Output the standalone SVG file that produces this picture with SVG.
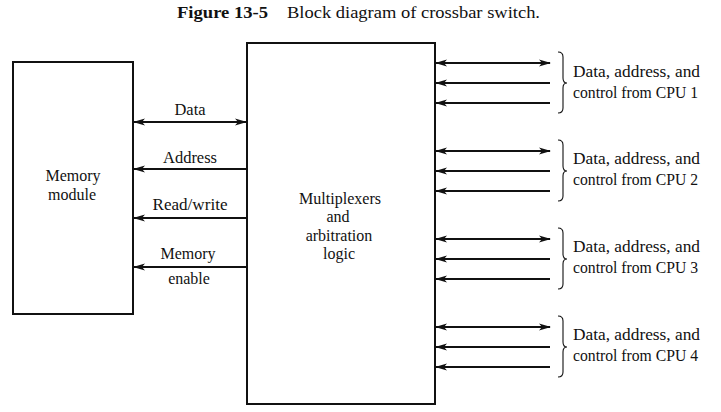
<svg xmlns="http://www.w3.org/2000/svg" width="721" height="412" viewBox="0 0 721 412">
<style>
text{font-family:"Liberation Serif","Times New Roman",serif;font-size:16px;fill:#111}
.box{fill:#fff;stroke:#111;stroke-width:2}
.ln{stroke:#111;stroke-width:1.8;fill:none}
.br{stroke:#111;stroke-width:1.1;fill:none}
.c{text-anchor:middle}
</style>
<defs>
<marker id="ah" viewBox="0 0 12 8" refX="11" refY="4" markerWidth="12" markerHeight="8" markerUnits="userSpaceOnUse" orient="auto-start-reverse">
<path d="M0,0.6 L12,4 L0,7.4 L3,4 Z" fill="#111"/>
</marker>
</defs>
<rect width="721" height="412" fill="#fff"/>
<text x="177" y="18" style="font-size:16px"><tspan font-weight="bold" textLength="91" lengthAdjust="spacingAndGlyphs">Figure 13-5</tspan><tspan x="287" textLength="253" lengthAdjust="spacingAndGlyphs">Block diagram of crossbar switch.</tspan></text>
<g id="memory">
<rect class="box" x="13" y="62" width="120" height="252"/>
<text class="c" x="73" y="181">Memory</text>
<text class="c" x="72" y="200">module</text>
</g>
<g id="mux">
<rect class="box" x="247" y="43" width="188" height="361"/>
<text class="c" x="340" y="204" textLength="82" lengthAdjust="spacingAndGlyphs">Multiplexers</text>
<text class="c" x="338" y="222">and</text>
<text class="c" x="339" y="241">arbitration</text>
<text class="c" x="339" y="259">logic</text>
</g>
<g id="connectors">
<line class="ln" x1="134" y1="122" x2="246" y2="122" marker-start="url(#ah)" marker-end="url(#ah)"/>
<line class="ln" x1="246" y1="169" x2="134" y2="169" marker-end="url(#ah)"/>
<line class="ln" x1="246" y1="218" x2="134" y2="218" marker-end="url(#ah)"/>
<line class="ln" x1="246" y1="267" x2="134" y2="267" marker-end="url(#ah)"/>
<line class="ln" x1="436" y1="63" x2="550" y2="63" marker-start="url(#ah)" marker-end="url(#ah)"/>
<line class="ln" x1="550" y1="83" x2="436" y2="83" marker-end="url(#ah)"/>
<line class="ln" x1="550" y1="103" x2="436" y2="103" marker-end="url(#ah)"/>
<line class="ln" x1="436" y1="151" x2="550" y2="151" marker-start="url(#ah)" marker-end="url(#ah)"/>
<line class="ln" x1="550" y1="171" x2="436" y2="171" marker-end="url(#ah)"/>
<line class="ln" x1="550" y1="191" x2="436" y2="191" marker-end="url(#ah)"/>
<line class="ln" x1="436" y1="239" x2="550" y2="239" marker-start="url(#ah)" marker-end="url(#ah)"/>
<line class="ln" x1="550" y1="259" x2="436" y2="259" marker-end="url(#ah)"/>
<line class="ln" x1="550" y1="279" x2="436" y2="279" marker-end="url(#ah)"/>
<line class="ln" x1="436" y1="327" x2="550" y2="327" marker-start="url(#ah)" marker-end="url(#ah)"/>
<line class="ln" x1="550" y1="347" x2="436" y2="347" marker-end="url(#ah)"/>
<line class="ln" x1="550" y1="367" x2="436" y2="367" marker-end="url(#ah)"/>
</g>
<g id="labels-left">
<text class="c" x="190" y="115" textLength="31" lengthAdjust="spacingAndGlyphs">Data</text>
<text class="c" x="190" y="163" textLength="54" lengthAdjust="spacingAndGlyphs">Address</text>
<text class="c" x="190" y="210" textLength="75" lengthAdjust="spacingAndGlyphs">Read/write</text>
<text class="c" x="188" y="259">Memory</text>
<text class="c" x="189" y="284">enable</text>
</g>
<g id="cpu1">
<path class="br" d="M558,52 Q563,52 563,57 L563,78 Q563,83 567,83 Q563,83 563,88 L563,108 Q563,113 558,113"/>
<text x="573" y="77" textLength="127" lengthAdjust="spacingAndGlyphs">Data, address, and</text>
<text x="573" y="98" textLength="125" lengthAdjust="spacingAndGlyphs">control from CPU 1</text>
</g>
<g id="cpu2">
<path class="br" d="M558,140 Q563,140 563,145 L563,166 Q563,171 567,171 Q563,171 563,176 L563,196 Q563,201 558,201"/>
<text x="573" y="164" textLength="127" lengthAdjust="spacingAndGlyphs">Data, address, and</text>
<text x="573" y="185" textLength="125" lengthAdjust="spacingAndGlyphs">control from CPU 2</text>
</g>
<g id="cpu3">
<path class="br" d="M558,228 Q563,228 563,233 L563,254 Q563,259 567,259 Q563,259 563,264 L563,284 Q563,289 558,289"/>
<text x="573" y="252" textLength="127" lengthAdjust="spacingAndGlyphs">Data, address, and</text>
<text x="573" y="273" textLength="125" lengthAdjust="spacingAndGlyphs">control from CPU 3</text>
</g>
<g id="cpu4">
<path class="br" d="M558,316 Q563,316 563,321 L563,342 Q563,347 567,347 Q563,347 563,352 L563,372 Q563,377 558,377"/>
<text x="573" y="340" textLength="127" lengthAdjust="spacingAndGlyphs">Data, address, and</text>
<text x="573" y="361" textLength="125" lengthAdjust="spacingAndGlyphs">control from CPU 4</text>
</g>
</svg>
